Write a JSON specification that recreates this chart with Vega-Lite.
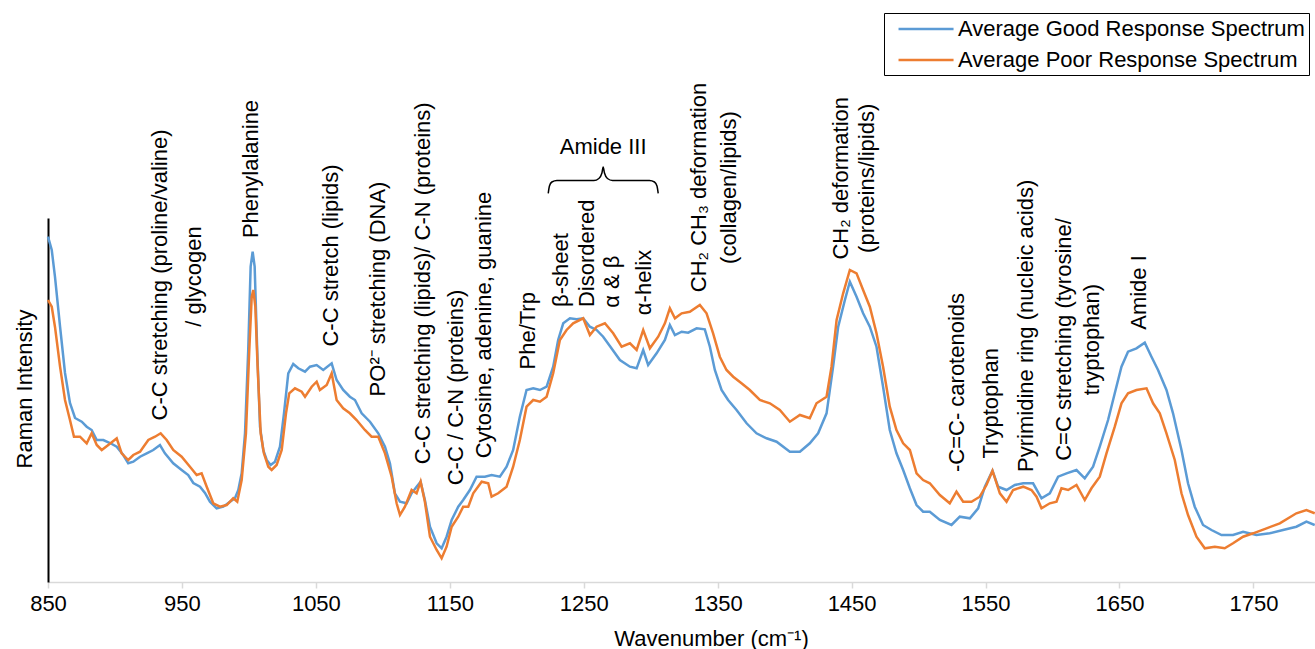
{
  "$schema": "https://vega.github.io/schema/vega-lite/v6.json",
  "width": 1267,
  "height": 364,
  "autosize": {"type": "none"},
  "padding": {"left": 48, "top": 218, "right": 0, "bottom": 67},
  "background": "white",
  "config": {
    "font": "Liberation Sans",
    "view": {"stroke": null}
  },
  "datasets": {
    "good": [
      {"wn":850,"v":345.3},{"wn":852.8,"v":332},{"wn":855.2,"v":305.3},{"wn":859,"v":255.3},{"wn":862.7,"v":209},{"wn":866.4,"v":179},{"wn":870.2,"v":164},{"wn":875.2,"v":160.3},{"wn":878.9,"v":155.3},{"wn":882.6,"v":152},{"wn":886.4,"v":142},{"wn":891.3,"v":142},{"wn":896.3,"v":139},{"wn":901.3,"v":135.3},{"wn":906.2,"v":127},{"wn":909.9,"v":118.7},{"wn":913.7,"v":120.3},{"wn":918.7,"v":125.3},{"wn":923.7,"v":128.7},{"wn":928.6,"v":132},{"wn":933.6,"v":137},{"wn":937.3,"v":128.7},{"wn":943.5,"v":118.7},{"wn":949.8,"v":112},{"wn":954.7,"v":107},{"wn":958.5,"v":99},{"wn":963.5,"v":95.3},{"wn":967.2,"v":89},{"wn":970.9,"v":80.3},{"wn":975.9,"v":73.7},{"wn":980.9,"v":75.3},{"wn":985.9,"v":80.3},{"wn":989.6,"v":83.7},{"wn":992.1,"v":92},{"wn":994.6,"v":108.7},{"wn":997.1,"v":148.7},{"wn":999.5,"v":232},{"wn":1001.3,"v":315.3},{"wn":1002.8,"v":330.3},{"wn":1004.3,"v":315.3},{"wn":1006.2,"v":232},{"wn":1008.3,"v":155.3},{"wn":1010.7,"v":132},{"wn":1013.3,"v":122},{"wn":1016.2,"v":117},{"wn":1019.5,"v":120.3},{"wn":1023.2,"v":135.3},{"wn":1026.2,"v":168.7},{"wn":1029.4,"v":208.7},{"wn":1033.1,"v":218},{"wn":1036.9,"v":213.7},{"wn":1041.9,"v":210.3},{"wn":1045.6,"v":215.3},{"wn":1050.6,"v":217},{"wn":1055.5,"v":212},{"wn":1061.8,"v":218.7},{"wn":1065.5,"v":202},{"wn":1070.4,"v":192},{"wn":1075.4,"v":185.3},{"wn":1079.2,"v":182},{"wn":1084.2,"v":168.7},{"wn":1090.4,"v":160.3},{"wn":1096.6,"v":148.7},{"wn":1101.6,"v":135.3},{"wn":1105.3,"v":118.7},{"wn":1109,"v":88.7},{"wn":1112.8,"v":80.3},{"wn":1117.8,"v":78.7},{"wn":1121.5,"v":88.7},{"wn":1125.2,"v":95.3},{"wn":1128.2,"v":100.3},{"wn":1131.4,"v":82},{"wn":1135.2,"v":55.3},{"wn":1140.2,"v":38.7},{"wn":1143.9,"v":33.7},{"wn":1147.6,"v":45.3},{"wn":1151.4,"v":62},{"wn":1156.3,"v":75.3},{"wn":1160,"v":82},{"wn":1165,"v":92},{"wn":1170,"v":105.3},{"wn":1176.2,"v":105.3},{"wn":1181.2,"v":107},{"wn":1187.4,"v":105.3},{"wn":1192.4,"v":115.3},{"wn":1197.3,"v":132},{"wn":1202.3,"v":165.3},{"wn":1207.3,"v":192},{"wn":1212.3,"v":193.7},{"wn":1217.3,"v":192},{"wn":1222.3,"v":195.3},{"wn":1227.2,"v":215.3},{"wn":1230.9,"v":242},{"wn":1234.7,"v":258.7},{"wn":1239.7,"v":263.7},{"wn":1244.7,"v":262.7},{"wn":1249.6,"v":263.7},{"wn":1254.6,"v":255.3},{"wn":1259.6,"v":252},{"wn":1264.5,"v":245.3},{"wn":1269.5,"v":236},{"wn":1277,"v":222},{"wn":1284.5,"v":215.3},{"wn":1289.5,"v":213.7},{"wn":1294.4,"v":232},{"wn":1298.1,"v":217},{"wn":1304.4,"v":228.7},{"wn":1310.6,"v":242},{"wn":1314.3,"v":257},{"wn":1318.1,"v":247},{"wn":1323.1,"v":250.3},{"wn":1328,"v":249.3},{"wn":1334.3,"v":253.7},{"wn":1340.4,"v":252.7},{"wn":1344.2,"v":235.3},{"wn":1347.9,"v":212},{"wn":1352.9,"v":192},{"wn":1357.8,"v":182},{"wn":1364.1,"v":172},{"wn":1371.6,"v":158.7},{"wn":1379,"v":148.7},{"wn":1386.5,"v":143.7},{"wn":1394,"v":140.3},{"wn":1403.9,"v":130.3},{"wn":1411.4,"v":130.3},{"wn":1418.8,"v":138.7},{"wn":1425,"v":148.7},{"wn":1431.3,"v":168.7},{"wn":1436.2,"v":215.3},{"wn":1440,"v":255.3},{"wn":1445,"v":282},{"wn":1448.7,"v":300.3},{"wn":1453.7,"v":285.3},{"wn":1458.6,"v":268.7},{"wn":1463.6,"v":255.3},{"wn":1468.6,"v":235.3},{"wn":1473.5,"v":195.3},{"wn":1478.5,"v":152},{"wn":1483.5,"v":128.7},{"wn":1488.5,"v":112},{"wn":1493.5,"v":93.7},{"wn":1498.5,"v":77},{"wn":1503.4,"v":70.3},{"wn":1508.4,"v":70.3},{"wn":1515.9,"v":62},{"wn":1524.6,"v":57},{"wn":1530.8,"v":65.3},{"wn":1538.3,"v":63.7},{"wn":1544.5,"v":73.7},{"wn":1549.5,"v":95.3},{"wn":1555.2,"v":111.3},{"wn":1559.4,"v":95.3},{"wn":1565.7,"v":92},{"wn":1571.9,"v":97},{"wn":1578.1,"v":98.7},{"wn":1585.5,"v":98.7},{"wn":1591.8,"v":83.7},{"wn":1598,"v":88.7},{"wn":1604.2,"v":105.3},{"wn":1610.5,"v":108.7},{"wn":1617.9,"v":112},{"wn":1624.1,"v":103.7},{"wn":1630.3,"v":115.3},{"wn":1635.3,"v":135.3},{"wn":1641.5,"v":162},{"wn":1646.5,"v":188.7},{"wn":1651.5,"v":215.3},{"wn":1656.4,"v":230.3},{"wn":1662.7,"v":233.7},{"wn":1668.9,"v":239.3},{"wn":1673.9,"v":225.3},{"wn":1678.8,"v":212},{"wn":1685.1,"v":192},{"wn":1690,"v":168.7},{"wn":1696.3,"v":132},{"wn":1701.2,"v":98.7},{"wn":1706.2,"v":75.3},{"wn":1712.4,"v":57},{"wn":1718.7,"v":52},{"wn":1726.2,"v":47},{"wn":1734.8,"v":47},{"wn":1742.3,"v":50.3},{"wn":1752.3,"v":47},{"wn":1762.2,"v":48.7},{"wn":1772.1,"v":52},{"wn":1782.1,"v":55.3},{"wn":1789.6,"v":60.3},{"wn":1795.8,"v":57}
    ],
    "poor": [
      {"wn":850,"v":282},{"wn":852.8,"v":275.3},{"wn":855.2,"v":255.3},{"wn":859,"v":215.3},{"wn":862.7,"v":182},{"wn":866.4,"v":162},{"wn":869.4,"v":145.3},{"wn":873.9,"v":145.3},{"wn":878.9,"v":138.7},{"wn":882.6,"v":148.7},{"wn":886.4,"v":137},{"wn":890.1,"v":132},{"wn":895,"v":137},{"wn":901.3,"v":143.7},{"wn":905,"v":128.7},{"wn":909.9,"v":122},{"wn":913.7,"v":127},{"wn":918.7,"v":130.3},{"wn":924.9,"v":142},{"wn":929.9,"v":145.3},{"wn":934.1,"v":148.7},{"wn":938.6,"v":142},{"wn":943.5,"v":132},{"wn":949.8,"v":125.3},{"wn":956,"v":115.3},{"wn":961,"v":107},{"wn":964.7,"v":108.7},{"wn":968.5,"v":95.3},{"wn":973.4,"v":78.7},{"wn":978.4,"v":75.3},{"wn":983.4,"v":77},{"wn":988.3,"v":83.7},{"wn":991.3,"v":80.3},{"wn":994.6,"v":102},{"wn":997.8,"v":148.7},{"wn":1000.3,"v":232},{"wn":1002.1,"v":285.3},{"wn":1003.3,"v":292},{"wn":1004.8,"v":275.3},{"wn":1006.5,"v":215.3},{"wn":1008.8,"v":148.7},{"wn":1011.2,"v":128.7},{"wn":1014.5,"v":115.3},{"wn":1017,"v":112},{"wn":1020.7,"v":117},{"wn":1024.5,"v":132},{"wn":1027.7,"v":168.7},{"wn":1030.1,"v":188.7},{"wn":1034.4,"v":193.7},{"wn":1039.4,"v":190.3},{"wn":1041.9,"v":185.3},{"wn":1046.9,"v":195.3},{"wn":1050.6,"v":200.3},{"wn":1053,"v":192},{"wn":1058.1,"v":197},{"wn":1061.8,"v":208.7},{"wn":1065.5,"v":182},{"wn":1070.4,"v":173.7},{"wn":1075.4,"v":168.7},{"wn":1080.4,"v":162},{"wn":1086.6,"v":152},{"wn":1091.6,"v":145.3},{"wn":1096.6,"v":145.3},{"wn":1101.6,"v":128.7},{"wn":1106.6,"v":105.3},{"wn":1110.3,"v":78.7},{"wn":1112.8,"v":67},{"wn":1116.5,"v":75.3},{"wn":1121.5,"v":92},{"wn":1125.2,"v":88.7},{"wn":1128.2,"v":100.3},{"wn":1131.4,"v":80.3},{"wn":1135.2,"v":45.3},{"wn":1140.2,"v":32},{"wn":1143.9,"v":23.7},{"wn":1147.6,"v":35.3},{"wn":1151.4,"v":55.3},{"wn":1156.3,"v":65.3},{"wn":1160,"v":75.3},{"wn":1163.8,"v":75.3},{"wn":1167.5,"v":88.7},{"wn":1173.8,"v":100.3},{"wn":1178.7,"v":98.7},{"wn":1181.2,"v":85.3},{"wn":1186.1,"v":88.7},{"wn":1192.4,"v":95.3},{"wn":1197.3,"v":115.3},{"wn":1202.3,"v":142},{"wn":1207.3,"v":175.3},{"wn":1212.3,"v":182},{"wn":1217.3,"v":180.3},{"wn":1222.3,"v":185.3},{"wn":1227.2,"v":208.7},{"wn":1232.2,"v":242},{"wn":1237.2,"v":252},{"wn":1242.1,"v":258.7},{"wn":1249.6,"v":263.7},{"wn":1254.6,"v":247},{"wn":1259.6,"v":255.3},{"wn":1265.8,"v":258.7},{"wn":1272,"v":248.7},{"wn":1278.3,"v":235.3},{"wn":1284.5,"v":238.7},{"wn":1289.5,"v":232},{"wn":1294.4,"v":252},{"wn":1299.4,"v":233.7},{"wn":1305.6,"v":245.3},{"wn":1310.6,"v":258.7},{"wn":1314.3,"v":273.7},{"wn":1318.1,"v":263.7},{"wn":1323.1,"v":268.7},{"wn":1329.2,"v":270.3},{"wn":1336.7,"v":277},{"wn":1341.7,"v":268.7},{"wn":1346.6,"v":248.7},{"wn":1351.6,"v":225.3},{"wn":1356.6,"v":212},{"wn":1361.6,"v":205.3},{"wn":1367.8,"v":198.7},{"wn":1374,"v":192},{"wn":1381.5,"v":182},{"wn":1389,"v":178.7},{"wn":1396.4,"v":172},{"wn":1403.9,"v":160.3},{"wn":1411.4,"v":167},{"wn":1418.8,"v":163.7},{"wn":1423.8,"v":178.7},{"wn":1431.3,"v":185.3},{"wn":1435,"v":215.3},{"wn":1438.8,"v":262},{"wn":1443.7,"v":288.7},{"wn":1448.7,"v":312},{"wn":1453.7,"v":308.7},{"wn":1458.6,"v":292},{"wn":1463.6,"v":275.3},{"wn":1468.6,"v":248.7},{"wn":1473.5,"v":215.3},{"wn":1478.5,"v":175.3},{"wn":1483.5,"v":152},{"wn":1488.5,"v":138.7},{"wn":1493.5,"v":132},{"wn":1498.5,"v":108.7},{"wn":1503.4,"v":102},{"wn":1508.4,"v":98.7},{"wn":1515.9,"v":87},{"wn":1523.3,"v":78.7},{"wn":1528.3,"v":90.3},{"wn":1533.3,"v":80.3},{"wn":1539.5,"v":80.3},{"wn":1545.7,"v":85.3},{"wn":1550.7,"v":97},{"wn":1555.2,"v":111.3},{"wn":1560.7,"v":88.7},{"wn":1565.7,"v":80.3},{"wn":1570.6,"v":92},{"wn":1578.1,"v":95.3},{"wn":1584.3,"v":92},{"wn":1588.1,"v":85.3},{"wn":1591.8,"v":73.7},{"wn":1598,"v":78.7},{"wn":1603,"v":80.3},{"wn":1606.7,"v":93.7},{"wn":1611.7,"v":92},{"wn":1617.9,"v":97},{"wn":1624.1,"v":82},{"wn":1629.1,"v":93.7},{"wn":1635.3,"v":105.3},{"wn":1640.3,"v":128.7},{"wn":1646.5,"v":155.3},{"wn":1651.5,"v":178.7},{"wn":1656.4,"v":188.7},{"wn":1662.7,"v":192},{"wn":1670.2,"v":193.7},{"wn":1675.1,"v":178.7},{"wn":1680.1,"v":168.7},{"wn":1685.1,"v":148.7},{"wn":1691.3,"v":122},{"wn":1696.3,"v":88.7},{"wn":1701.2,"v":67},{"wn":1707.5,"v":45.3},{"wn":1713.7,"v":33.7},{"wn":1721.2,"v":35.3},{"wn":1728.6,"v":33.7},{"wn":1734.8,"v":38.7},{"wn":1742.3,"v":45.3},{"wn":1749.8,"v":48.7},{"wn":1759.8,"v":53.7},{"wn":1769.7,"v":58.7},{"wn":1782.1,"v":68.7},{"wn":1789.6,"v":72},{"wn":1795.8,"v":68.7}
    ],
    "brace": [
      {"wn":1223.5,"v":388.7},{"wn":1224.4,"v":396},{"wn":1226.2,"v":400},{"wn":1230,"v":401.5},{"wn":1257.6,"v":401.5},{"wn":1261.3,"v":403.5},{"wn":1263.6,"v":409},{"wn":1264.5,"v":415},{"wn":1265.5,"v":409},{"wn":1267.7,"v":403.5},{"wn":1271.5,"v":401.5},{"wn":1299.1,"v":401.5},{"wn":1302.8,"v":400},{"wn":1304.7,"v":396},{"wn":1305.6,"v":388.7}
    ],
    "vlabels": [
      {"wn":933.6,"v":307,"label":"C-C stretching (proline/valine)"},
      {"wn":959.0,"v":305.5,"label":"/ glycogen"},
      {"wn":1001.9,"v":413,"label":"Phenylalanine"},
      {"wn":1061.6,"v":326.5,"label":"C-C stretch (lipids)"},
      {"wn":1096.3,"v":293,"label":"PO²⁻ stretching (DNA)"},
      {"wn":1129.9,"v":298.7,"label":"C-C stretching (lipids)/ C-N (proteins)"},
      {"wn":1154.6,"v":194.5,"label":"C-C / C-N (proteins)"},
      {"wn":1175.5,"v":257,"label":"Cytosine, adenine, guanine"},
      {"wn":1208.5,"v":251.2,"label":"Phe/Trp"},
      {"wn":1233.3,"v":312,"label":"β-sheet"},
      {"wn":1252.4,"v":328.7,"label":"Disordered"},
      {"wn":1271.0,"v":300.3,"label":"α & β"},
      {"wn":1294.9,"v":299.5,"label":"α-helix"},
      {"wn":1336.0,"v":394.5,"label":"CH₂ CH₃ deformation"},
      {"wn":1358.4,"v":394.5,"label":"(collagen/lipids)"},
      {"wn":1442.0,"v":403.7,"label":"CH₂ deformation"},
      {"wn":1461.7,"v":403.7,"label":"(proteins/lipids)"},
      {"wn":1528.6,"v":199.5,"label":"-C=C- carotenoids"},
      {"wn":1554.3,"v":178.7,"label":"Tryptophan"},
      {"wn":1580.1,"v":256.2,"label":"Pyrimidine ring (nucleic acids)"},
      {"wn":1608.4,"v":242.5,"label":"C=C stretching (tyrosine/"},
      {"wn":1629.7,"v":242.5,"label":"tryptophan)"},
      {"wn":1664.4,"v":289.5,"label":"Amide I"}
    ],
    "hlabels": [
      {"wn":1264.5,"v":435,"label":"Amide III"}
    ]
  },
  "encoding": {
    "x": {
      "field": "wn", "type": "quantitative",
      "scale": {"domain": [850, 1796], "nice": false, "zero": false},
      "axis": {
        "title": "Wavenumber (cm⁻¹)",
        "values": [850, 950, 1050, 1150, 1250, 1350, 1450, 1550, 1650, 1750],
        "format": "d",
        "grid": false,
        "domainColor": "#d9d9d9", "domainWidth": 1.5,
        "tickColor": "#d9d9d9", "tickWidth": 1.5, "tickSize": 6,
        "labelFontSize": 22, "labelColor": "black", "labelFont": "Liberation Sans",
        "labelPadding": 5, "labelFlush": false, "labelBaseline": "top",
        "titleFontSize": 22, "titleFontWeight": "normal", "titleColor": "black", "titleFont": "Liberation Sans",
        "titleX": 663, "titleY": 63, "titleBaseline": "alphabetic", "titleAlign": "center"
      }
    },
    "y": {
      "field": "v", "type": "quantitative",
      "scale": {"domain": [0, 364], "nice": false, "zero": false},
      "axis": {
        "title": "Raman Intensity",
        "labels": false, "ticks": false, "grid": false,
        "domainColor": "black", "domainWidth": 2,
        "titleFontSize": 22, "titleFontWeight": "normal", "titleColor": "black", "titleFont": "Liberation Sans",
        "titleX": -24, "titleY": 170.5, "titleAngle": 270, "titleBaseline": "middle", "titleAlign": "center"
      }
    }
  },
  "layer": [
    {
      "data": {"name": "good"},
      "mark": {"type": "line", "strokeWidth": 2.5},
      "encoding": {
        "color": {
          "datum": "Average Good Response Spectrum",
          "type": "nominal",
          "scale": {"domain": ["Average Good Response Spectrum", "Average Poor Response Spectrum"], "range": ["#5B9BD5", "#ED7D31"]},
          "legend": {
            "orient": "none", "legendX": 836, "legendY": -205,
            "title": null, "strokeColor": "black",
            "padding": 4, "labelFontSize": 22, "labelColor": "black", "labelFont": "Liberation Sans",
            "symbolType": "M-0.14,0H5.1", "symbolSize": 441, "symbolStrokeWidth": 2.5,
            "labelOffset": 46, "labelLimit": 0, "rowPadding": 8
          }
        }
      }
    },
    {
      "data": {"name": "poor"},
      "mark": {"type": "line", "strokeWidth": 2.5},
      "encoding": {
        "color": {"datum": "Average Poor Response Spectrum", "type": "nominal"}
      }
    },
    {
      "data": {"name": "brace"},
      "mark": {"type": "line", "color": "black", "strokeWidth": 1.5, "interpolate": "monotone"},
      "encoding": {}
    },
    {
      "data": {"name": "vlabels"},
      "mark": {"type": "text", "angle": 270, "align": "center", "baseline": "middle", "fontSize": 22, "font": "Liberation Sans", "color": "black"},
      "encoding": {"text": {"field": "label"}}
    },
    {
      "data": {"name": "hlabels"},
      "mark": {"type": "text", "align": "center", "baseline": "middle", "fontSize": 22, "font": "Liberation Sans", "color": "black"},
      "encoding": {"text": {"field": "label"}}
    }
  ]
}
